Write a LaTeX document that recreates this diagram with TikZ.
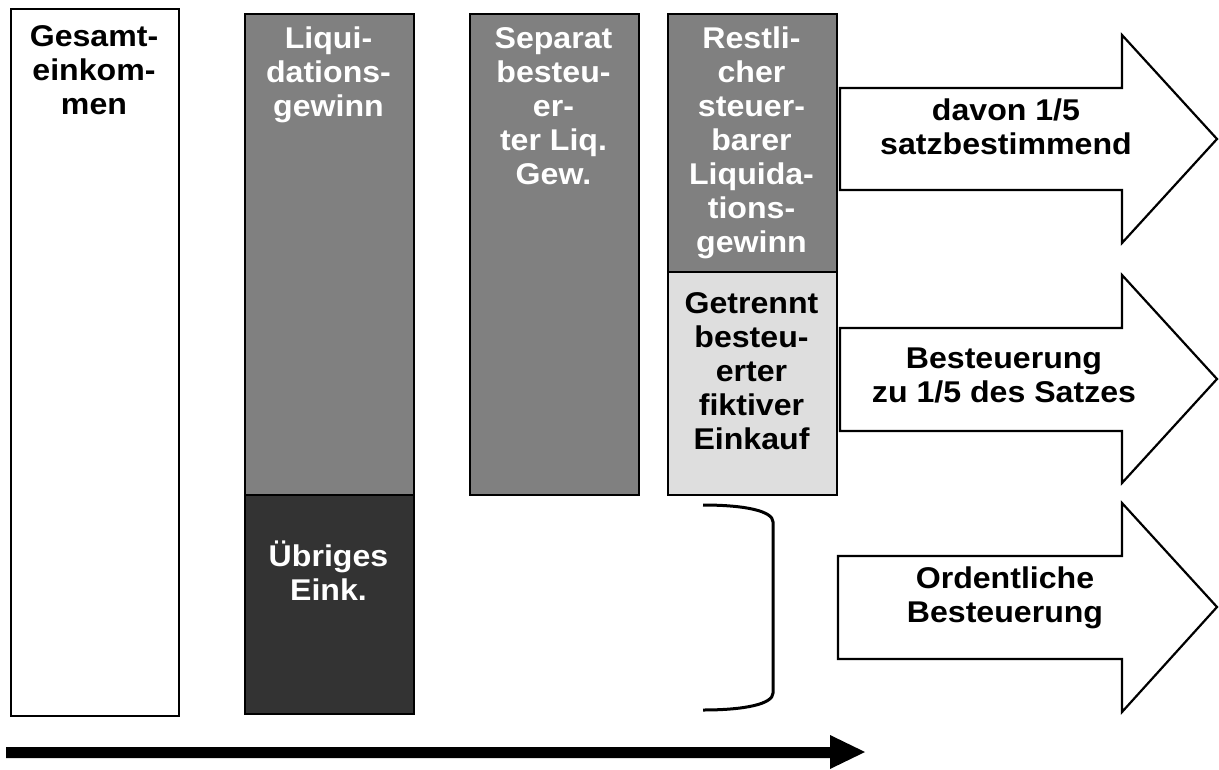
\documentclass[tikz,border=0pt]{standalone}
\usepackage{fontspec}
\setmainfont{Liberation Sans}[FakeStretch=1.07]
\begin{document}
\begin{tikzpicture}[x=1pt,y=-1pt,
  lbl/.style={font=\bfseries\fontsize{30}{34}\selectfont, align=center, inner sep=0pt},
  bar/.style={draw=black, line width=1.8pt, rectangle, inner sep=0pt, anchor=north west},
  bigarrow/.style={draw=black, line width=2.2pt, fill=white, line join=miter},
]
\useasboundingbox (0,0) rectangle (1219,769);
\fill[white] (0,0) rectangle (1219,769);

% boxes
\node[bar, fill=white, minimum width=168pt, minimum height=707pt] (ges) at (10,8) {};
\node[bar, fill=black!50, minimum width=169pt, minimum height=481pt] (liq) at (244,13) {};
\node[bar, fill=black!80, minimum width=169pt, minimum height=219pt] (ueb) at (244,494) {};
\node[bar, fill=black!50, minimum width=169pt, minimum height=481pt] (sep) at (469,13) {};
\node[bar, fill=black!50, minimum width=169pt, minimum height=258pt] (rest) at (667,13) {};
\node[bar, fill=black!13, minimum width=169pt, minimum height=223pt] (getr) at (667,271) {};

% box labels
\node[lbl, anchor=north] (tges) at (94,25) {Gesamt-\\einkom-\\men};
\node[lbl, anchor=north, text=white] (tliq) at (328.5,27) {Liqui-\\dations-\\gewinn};
\node[lbl, anchor=north, text=white] (tueb) at (328.5,541) {Übriges\\Eink.};
\node[lbl, anchor=north, text=white] (tsep) at (553.5,27) {Separat\\besteu-\\er-\\ter Liq.\\Gew.};
\node[lbl, anchor=north, text=white] (trest) at (751.5,27) {Restli-\\cher\\steuer-\\barer\\Liquida-\\tions-\\gewinn};
\node[lbl, anchor=north] (tgetr) at (751.5,292) {Getrennt\\besteu-\\erter\\fiktiver\\Einkauf};

% big arrows
\draw[bigarrow] (840,88) -- (1122,88) -- (1122,35) -- (1217,139) -- (1122,243) -- (1122,190) -- (840,190) -- cycle;
\draw[bigarrow] (840,328) -- (1122,328) -- (1122,275) -- (1217,379) -- (1122,483) -- (1122,431) -- (840,431) -- cycle;
\draw[bigarrow] (838,556) -- (1122,556) -- (1122,503) -- (1217,607) -- (1122,712) -- (1122,659) -- (838,659) -- cycle;

\node[lbl] (ta1) at (1006,127) {davon 1/5\\satzbestimmend};
\node[lbl] (ta2) at (1004,375) {Besteuerung\\zu 1/5 des Satzes};
\node[lbl] (ta3) at (1005,598) {Ordentliche\\Besteuerung};

% bracket
\draw[line width=3pt] (703,505) .. controls (745,505) and (773,511) .. (773,522) -- (773,693) .. controls (773,704) and (745,710) .. (703,710);

% bottom arrow
\coordinate (bstart) at (6,752);
\coordinate (bend) at (865,752);
\fill[black] (6,747) -- (830,747) -- (830,735) -- (865,752) -- (830,769) -- (830,758) -- (6,758) -- cycle;
\end{tikzpicture}
\end{document}
